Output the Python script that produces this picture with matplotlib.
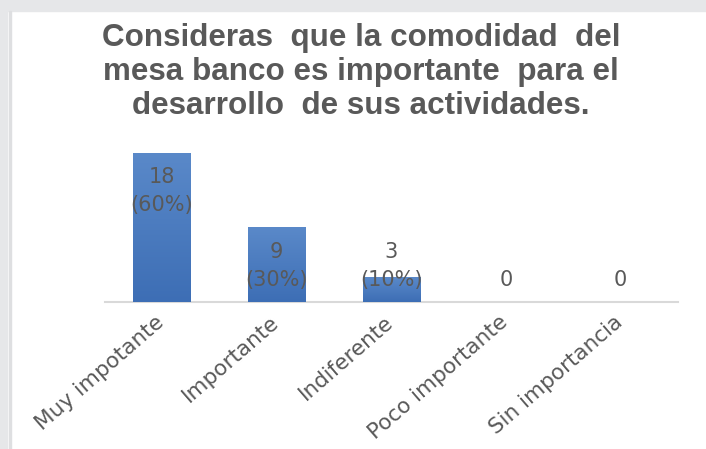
import matplotlib
matplotlib.use("Agg")
import matplotlib.pyplot as plt
import matplotlib.transforms as mtransforms
from matplotlib.patches import Rectangle
import numpy as np

# datos de la encuesta
categorias = ["Muy impotante", "Importante", "Indiferente", "Poco importante", "Sin importancia"]
frecuencias = [18, 9, 3, 0, 0]
porcentajes = [60, 30, 10, 0, 0]
titulo = "Consideras  que la comodidad  del\nmesa banco es importante  para el\ndesarrollo  de sus actividades."

GRIS_TEXTO = "#595959"

fig = plt.figure(figsize=(7.06, 4.49), dpi=100)
fig.patch.set_facecolor("white")

# marco gris de la captura
fig.patches.append(Rectangle((0, 1 - 11 / 449), 1, 11 / 449, transform=fig.transFigure,
                             color="#e6e7e9", zorder=0))
fig.patches.append(Rectangle((0, 0), 7 / 706, 1, transform=fig.transFigure,
                             color="#e6e7e9", zorder=0))
fig.patches.append(Rectangle((9 / 706, 0), 2 / 706, 1 - 11 / 449, transform=fig.transFigure,
                             color="#dedfe1", zorder=0))

ax = fig.add_axes([104.5 / 706, 1 - 302 / 449, 573.5 / 706, 165.6 / 449])

x = np.arange(len(categorias))
barras = ax.bar(x, frecuencias, width=0.5, color="#4a7cc0", zorder=2)

# degradado vertical en cada barra
grad = np.linspace(0, 1, 256).reshape(-1, 1)
cmap = matplotlib.colors.LinearSegmentedColormap.from_list("azul", ["#3d6eb5", "#5a89c9"])
for b in barras:
    if b.get_height() <= 0:
        continue
    x0, w, h = b.get_x(), b.get_width(), b.get_height()
    im = ax.imshow(grad, cmap=cmap, origin="lower", aspect="auto",
                   extent=(x0, x0 + w, 0, h), zorder=3)
    im.set_clip_path(b)
    b.set_facecolor("none")
ax.set_xlim(-0.5, len(categorias) - 0.5)
ax.set_ylim(0, 20)

# etiquetas de datos
for xi, v, p in zip(x, frecuencias, porcentajes):
    if v > 0:
        ax.text(xi, max(v - 4.6, 4.3), f"{v}\n({p}%)", ha="center", va="center",
                fontsize=15, color=GRIS_TEXTO, linespacing=1.5, zorder=4)
    else:
        ax.text(xi, 2.6, f"{v}", ha="center", va="center",
                fontsize=15, color=GRIS_TEXTO, zorder=4)

for s in ["top", "right", "left"]:
    ax.spines[s].set_visible(False)
ax.spines["bottom"].set_color("#d9d9d9")
ax.spines["bottom"].set_linewidth(1.5)
ax.set_yticks([])
ax.set_xticks(x)
ax.set_xticklabels(categorias, rotation=41, ha="right", rotation_mode="anchor",
                   fontsize=15.5, color=GRIS_TEXTO)
ax.tick_params(axis="x", length=0, pad=7)
desplazamiento = mtransforms.ScaledTranslation(-7 / 100, 0, fig.dpi_scale_trans)
for etiqueta in ax.get_xticklabels():
    etiqueta.set_transform(etiqueta.get_transform() + desplazamiento)
ax.set_facecolor("none")

fig.text(361 / 706, 1 - 72 / 449, titulo, ha="center", va="center",
         fontsize=22.6, fontweight="bold", family="Liberation Sans",
         color=GRIS_TEXTO, linespacing=1.17)

fig.savefig("out.png", dpi=100)
